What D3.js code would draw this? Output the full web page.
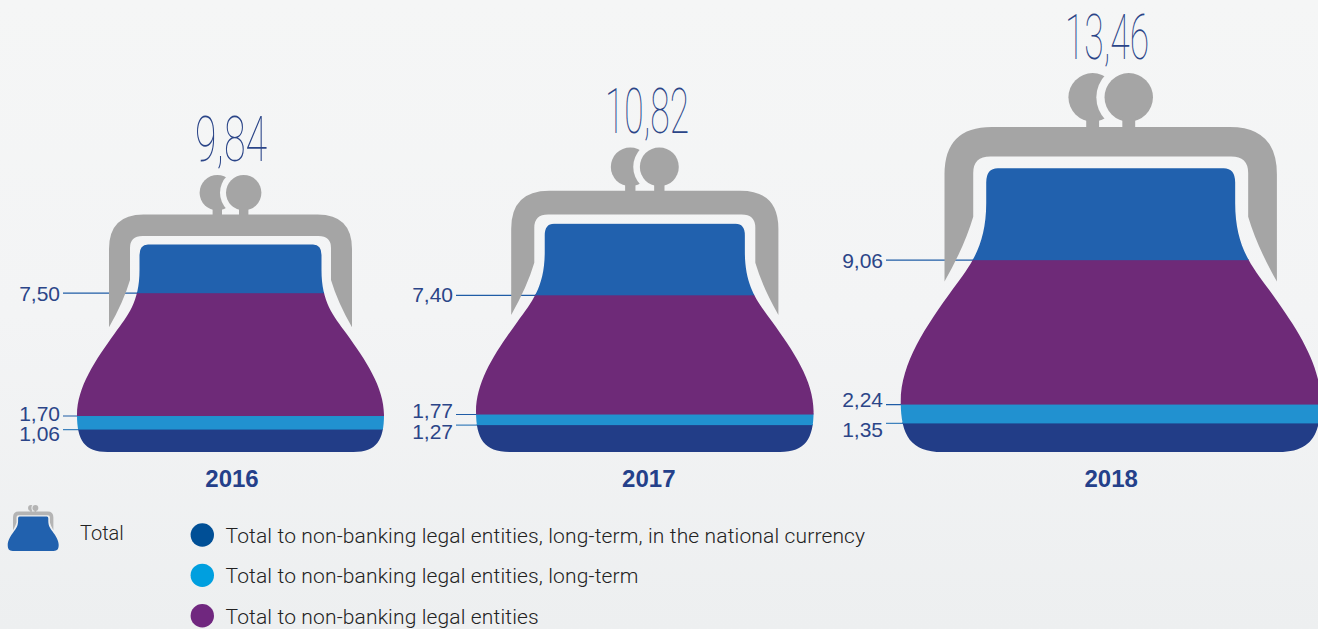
<!DOCTYPE html>
<html>
<head>
<meta charset="utf-8">
<script src="https://cdn.jsdelivr.net/npm/d3@7"></script>
<style>
html, body { margin: 0; padding: 0; overflow: hidden; }
body { width: 1318px; height: 629px; background: linear-gradient(180deg, #f5f6f6 0%, #f3f4f5 50%, #edeff0 100%); }
svg { display: block; }
</style>
</head>
<body>
<script>
var years = ["2016", "2017", "2018"];
var totals = [9.84, 10.82, 13.46];
var nonBanking = [7.50, 7.40, 9.06];
var longTerm = [1.70, 1.77, 2.24];
var longTermNational = [1.06, 1.27, 1.35];
var legendLabels = [
    "Total to non-banking legal entities, long-term, in the national currency",
    "Total to non-banking legal entities, long-term",
    "Total to non-banking legal entities"
];

var width = 1318, height = 629, baseY = 452;
var navy = "#223d87", sky = "#2191d0", purple = "#6e2a78", blue = "#2161ae", grey = "#a5a5a5";
var inkBlue = "#2b4588";

// layout of each purse
var centers = [230.5, 644.8, 1110.7];
var labelRight = [60, 453, 883];
var labelNudge = [[7.5, 4.7, 11.5], [7, 3, 13.5], [8, 2.5, 14]];
var totalLeft = [195, 605, 1065];
var totalWidth = [72, 84, 84];

var svg = d3.select("body").append("svg")
    .attr("width", width)
    .attr("height", height);

var y = d3.scaleLinear().domain([0, 13.46]).range([baseY, baseY - 285]);
var size = d3.scaleLinear().domain([0, 9.84]).range([0, 1]);
var fmt = function(v) { return v.toFixed(2).replace(".", ","); };

// purse drawn for the 2016 size, scaled from there
function bodyPath() {
    var p = d3.path();
    p.moveTo(-82.5, -207.5);
    p.lineTo(82.5, -207.5);
    p.quadraticCurveTo(91, -207.5, 91, -197);
    p.lineTo(91, -182);
    p.bezierCurveTo(91, -150, 103, -136, 115.5, -119);
    p.bezierCurveTo(135, -92, 153.5, -65, 153.5, -37);
    p.bezierCurveTo(153.5, -12, 146, 0, 123, 0);
    p.lineTo(-123, 0);
    p.bezierCurveTo(-146, 0, -153.5, -12, -153.5, -37);
    p.bezierCurveTo(-153.5, -65, -135, -92, -115.5, -119);
    p.bezierCurveTo(-103, -136, -91, -150, -91, -182);
    p.lineTo(-91, -197);
    p.quadraticCurveTo(-91, -207.5, -82.5, -207.5);
    p.closePath();
    return p.toString();
}

function framePath() {
    var p = d3.path();
    p.moveTo(-121.5, -124.7);
    p.lineTo(-121.5, -203);
    p.quadraticCurveTo(-121.5, -237.6, -87, -237.6);
    p.lineTo(87, -237.6);
    p.quadraticCurveTo(121.5, -237.6, 121.5, -203);
    p.lineTo(121.5, -124.7);
    p.quadraticCurveTo(107, -150, 100.5, -172);
    p.lineTo(100.5, -204);
    p.quadraticCurveTo(100.5, -216, 88, -216);
    p.lineTo(-88, -216);
    p.quadraticCurveTo(-100.5, -216, -100.5, -204);
    p.lineTo(-100.5, -172);
    p.quadraticCurveTo(-107, -150, -121.5, -124.7);
    p.closePath();
    return p.toString();
}

var defs = svg.append("defs");
defs.append("clipPath").attr("id", "purse-clip")
    .append("path").attr("d", bodyPath());

// gap that the right ball cuts out of the left one
var ballMask = defs.append("mask").attr("id", "ball-gap")
    .attr("maskUnits", "userSpaceOnUse")
    .attr("x", -60).attr("y", -300).attr("width", 120).attr("height", 90);
ballMask.append("rect").attr("x", -60).attr("y", -300).attr("width", 120).attr("height", 90).attr("fill", "#fff");
ballMask.append("circle").attr("cx", 13.2).attr("cy", -259.3).attr("r", 23.7).attr("fill", "#000");

function drawClasp(g, fill) {
    var left = g.append("g").attr("mask", "url(#ball-gap)").attr("fill", fill);
    left.append("circle").attr("cx", -13.2).attr("cy", -259.3).attr("r", 17.7);
    left.append("rect").attr("x", -17.9).attr("y", -245).attr("width", 9.4).attr("height", 12);
    g.append("circle").attr("cx", 13.2).attr("cy", -259.3).attr("r", 17.7).attr("fill", fill);
    g.append("rect").attr("x", 8.5).attr("y", -245).attr("width", 9.4).attr("height", 12).attr("fill", fill);
    g.append("path").attr("d", framePath()).attr("fill", fill);
}

years.forEach(function(year, i) {
    var cx = centers[i], k = size(totals[i]);
    var group = svg.append("g").attr("class", "purse");

    // leader lines go under the purse, the frame and body hide the rest
    var marks = [nonBanking[i], longTerm[i], longTermNational[i]];
    group.selectAll("line.leader")
        .data(marks)
        .enter()
        .append("line")
        .attr("class", "leader")
        .attr("x1", labelRight[i] + 3)
        .attr("x2", cx)
        .attr("y1", function(d) { return y(d); })
        .attr("y2", function(d) { return y(d); })
        .attr("stroke", function(d, j) { return j == 2 ? "#3f82bd" : "#1f5ca6"; })
        .attr("stroke-width", 1.2);

    var glyph = group.append("g")
        .attr("transform", "translate(" + cx + "," + baseY + ") scale(" + k + ")");
    drawClasp(glyph, grey);

    // bands are cut to the purse outline
    var bands = [
        { from: 0, to: longTermNational[i], fill: navy },
        { from: longTermNational[i], to: longTerm[i], fill: sky },
        { from: longTerm[i], to: nonBanking[i], fill: purple },
        { from: nonBanking[i], to: totals[i], fill: blue }
    ];
    group.append("g")
        .attr("transform", "translate(" + cx + "," + baseY + ") scale(" + k + ")")
        .attr("clip-path", "url(#purse-clip)")
        .selectAll("rect")
        .data(bands)
        .enter()
        .append("rect")
        .attr("x", -160)
        .attr("width", 320)
        .attr("y", function(d) { return (y(d.to) - baseY) / k - 1; })
        .attr("height", function(d) { return (y(d.from) - y(d.to)) / k + 1; })
        .attr("fill", function(d) { return d.fill; });

    group.selectAll("text.value")
        .data(marks)
        .enter()
        .append("text")
        .attr("class", "value")
        .attr("x", labelRight[i])
        .attr("y", function(d, j) { return y(d) + labelNudge[i][j]; })
        .attr("text-anchor", "end")
        .attr("font-family", "Liberation Sans")
        .attr("font-size", 21)
        .attr("fill", inkBlue)
        .text(fmt);

    // thin condensed total above the clasp
    svg.append("text")
        .attr("x", totalLeft[i])
        .attr("y", baseY - 277 * k - 14.5)
        .attr("textLength", totalWidth[i])
        .attr("lengthAdjust", "spacingAndGlyphs")
        .attr("font-family", "Roboto")
        .attr("font-weight", 100)
        .attr("font-size", 63)
        .attr("fill", inkBlue)
        .text(fmt(totals[i]));

    svg.append("text")
        .attr("x", cx + [1.5, 4, 0.5][i])
        .attr("y", 486.5)
        .attr("text-anchor", "middle")
        .attr("font-family", "Liberation Sans")
        .attr("font-weight", "bold")
        .attr("font-size", 24)
        .attr("fill", "#24408a")
        .text(year);
});

// legend
var mini = svg.append("g").attr("transform", "translate(33.2,551) scale(0.166)");
drawClasp(mini, "#b4b4b4");
mini.append("path").attr("d", bodyPath()).attr("fill", blue);

svg.append("text")
    .attr("x", 80).attr("y", 540)
    .attr("font-family", "Roboto").attr("font-weight", 300)
    .attr("font-size", 20).attr("fill", "#222")
    .text("Total");

var legendColors = ["#004f96", "#009fdf", "#70277f"];
var legendY = d3.scalePoint().domain(legendLabels).range([535, 615.7]);

svg.selectAll("circle.key")
    .data(legendLabels)
    .enter()
    .append("circle")
    .attr("class", "key")
    .attr("cx", 202.3)
    .attr("cy", function(d) { return legendY(d); })
    .attr("r", 11.7)
    .attr("fill", function(d, i) { return legendColors[i]; });

svg.selectAll("text.key")
    .data(legendLabels)
    .enter()
    .append("text")
    .attr("class", "key")
    .attr("x", 225.5)
    .attr("y", function(d) { return legendY(d) + 8; })
    .attr("font-family", "Roboto")
    .attr("font-weight", 300)
    .attr("font-size", 21)
    .attr("letter-spacing", 0.14)
    .attr("fill", "#222")
    .text(function(d) { return d; });
</script>
</body>
</html>
